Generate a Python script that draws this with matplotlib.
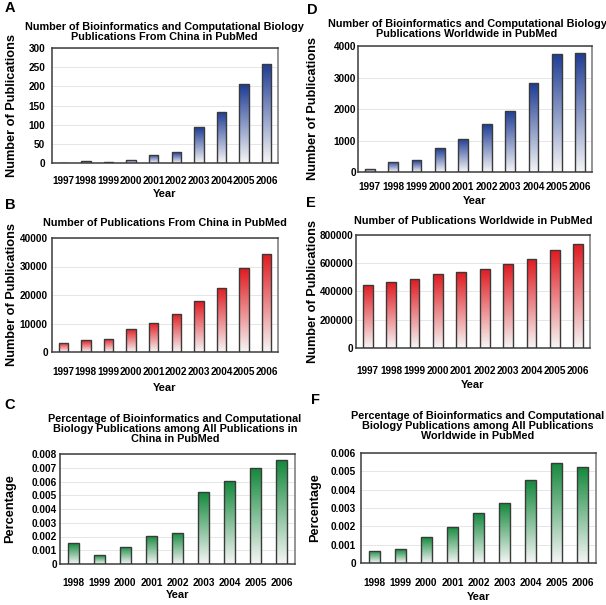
import matplotlib.pyplot as plt
import numpy as np
from matplotlib.colors import LinearSegmentedColormap

#### DATA
years_10 = ['1997', '1998', '1999', '2000', '2001', '2002', '2003', '2004', '2005', '2006']
years_9 = years_10[1:]

china_bio = [1, 6, 3, 9, 22, 28, 93, 134, 205, 259]
world_bio = [100, 320, 370, 750, 1050, 1510, 1940, 2810, 3760, 3790]
china_all = [3200, 4100, 4700, 8200, 10300, 13500, 17800, 22500, 29400, 34300]
world_all = [447000, 466000, 485000, 522000, 536000, 560000, 593000, 628000, 692000, 734000]
china_pct = [0.0015, 0.00065, 0.00126, 0.00206, 0.00228, 0.00521, 0.00601, 0.00696, 0.00754]
world_pct = [0.00068, 0.00074, 0.0014, 0.00197, 0.00272, 0.00325, 0.00452, 0.00548, 0.00521]

ticks_a = [0, 50, 100, 150, 200, 250, 300]
ticks_d = [0, 1000, 2000, 3000, 4000]
ticks_b = [0, 10000, 20000, 30000, 40000]
ticks_e = [0, 200000, 400000, 600000, 800000]
ticks_c = [0, 0.001, 0.002, 0.003, 0.004, 0.005, 0.006, 0.007, 0.008]
ticks_f = [0, 0.001, 0.002, 0.003, 0.004, 0.005, 0.006]

BLUE = '#1d3b94'
RED = '#e01a1f'
GREEN = '#13893c'

FONT = ['Liberation Sans', 'DejaVu Sans']
W, H = 606, 605

fig = plt.figure(figsize=(W / 100, H / 100), dpi=100)


def fx(x):
    return x / W


def fy(y):
    return 1 - y / H


def panel(box, labels, values, yticks, color, title, title_xy, ylabel, ylab_x,
          letter, letter_xy, tick_y, year_y, ypad):
    left, top, right, bottom = box
    ax = fig.add_axes([fx(left), fy(bottom), (right - left) / W, (bottom - top) / H])
    x = np.arange(len(labels))
    cmap = LinearSegmentedColormap.from_list('grad', ['#f6f6f6', color])
    bars = ax.bar(x, values, width=0.42, color='none', edgecolor='#3a3a3a',
                  linewidth=1.0, zorder=3)
    grad = np.linspace(0, 1, 256).reshape(-1, 1)
    for b in bars:
        x0, w, h = b.get_x(), b.get_width(), b.get_height()
        im = ax.imshow(grad, extent=(x0, x0 + w, 0, h), origin='lower', cmap=cmap,
                       aspect='auto', zorder=2)
        im.set_clip_path(b)
    ax.set_xlim(-0.5, len(labels) - 0.5)
    ax.set_ylim(0, yticks[-1])
    ax.set_yticks(yticks)
    ax.set_yticklabels(['%g' % t if t < 1 else '%d' % t for t in yticks],
                       family=FONT, fontweight='bold', fontsize=7.2)
    ax.set_xticks(x)
    ax.set_xticklabels(labels, family=FONT, fontweight='bold', fontsize=7.2)
    ax.tick_params(axis='both', length=0)
    ax.tick_params(axis='y', pad=ypad)
    ax.tick_params(axis='x', pad=(tick_y - bottom) - 5)
    ax.grid(axis='y', color='#e6e6e6', linewidth=0.7, zorder=0)
    ax.set_axisbelow(True)
    for s in ax.spines.values():
        s.set_color('#3c3c3c')
        s.set_linewidth(1.1)
    ax.spines['right'].set_color('#777777')

    cx = (left + right) / 2
    fig.text(fx(title_xy[0]), fy(title_xy[1]), title, ha='center', va='center',
             family=FONT, fontweight='bold', fontsize=7.8, linespacing=1.05)
    fig.text(fx(ylab_x), fy((top + bottom) / 2), ylabel, ha='center', va='center',
             rotation=90, family=FONT, fontweight='bold', fontsize=9.2)
    fig.text(fx(cx), fy(year_y), 'Year', ha='center', va='center', family=FONT,
             fontweight='bold', fontsize=8)
    fig.text(fx(letter_xy[0]), fy(letter_xy[1]), letter, ha='center', va='center',
             family=FONT, fontweight='bold', fontsize=10.5)
    return ax


panel((52, 48, 278, 163), years_10, china_bio, ticks_a, BLUE,
      'Number of Bioinformatics and Computational Biology\nPublications From China in PubMed',
      (164, 32), 'Number of Publications', 12, 'A', (10, 8), 177, 194, 5)
panel((358, 46, 592, 172), years_10, world_bio, ticks_d, BLUE,
      'Number of Bioinformatics and Computational Biology\nPublications Worldwide in PubMed',
      (467, 29), 'Number of Publications', 313, 'D', (312, 10), 184, 201, 1.5)
panel((52, 238, 278, 352), years_10, china_all, ticks_b, RED,
      'Number of Publications From China in PubMed',
      (165, 223), 'Number of Publications', 12, 'B', (10, 205), 368, 388, 3)
panel((356, 235, 590, 348), years_10, world_all, ticks_e, RED,
      'Number of Publications Worldwide in PubMed',
      (473, 221), 'Number of Publications', 313, 'E', (311, 203), 366, 385, 2)
panel((60, 454, 295, 564), years_9, china_pct, ticks_c, GREEN,
      'Percentage of Bioinformatics and Computational\nBiology Publications among All Publications in\nChina in PubMed',
      (175, 429), 'Percentage', 10, 'C', (10, 405), 579, 595, 2)
panel((361, 453, 596, 563), years_9, world_pct, ticks_f, GREEN,
      'Percentage of Bioinformatics and Computational\nBiology Publications among All Publications\nWorldwide in PubMed',
      (478, 426), 'Percentage', 315, 'F', (316, 400), 579, 597, 3.5)

fig.savefig('out.png', dpi=100)
